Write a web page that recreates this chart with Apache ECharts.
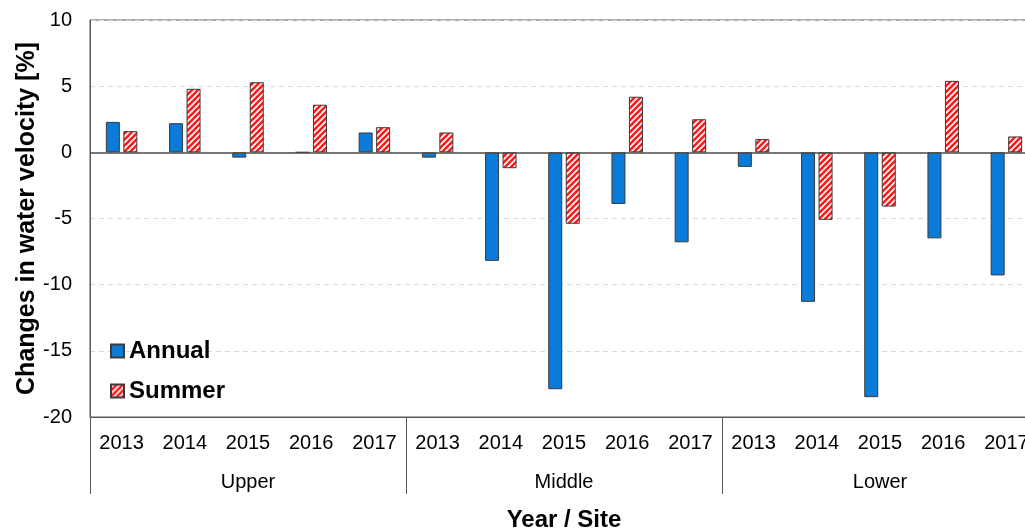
<!DOCTYPE html>
<html>
<head>
<meta charset="utf-8">
<script src="https://cdn.jsdelivr.net/npm/echarts@6/dist/echarts.min.js"></script>
<style>
  html, body { margin: 0; padding: 0; background: #fff; }
  #chart { width: 1025px; height: 532px; }
</style>
</head>
<body>
<div id="chart"></div>
<script>
// Site groups and the years measured within each
const sites = ['Upper', 'Middle', 'Lower'];
const years = ['2013', '2014', '2015', '2016', '2017'];

// Change in water velocity [%], per site and year (Upper, Middle, Lower)
const annual = [
  2.3, 2.2, -0.4, 0, 1.5,
  -0.4, -8.2, -17.9, -3.9, -6.8,
  -1.1, -11.3, -18.5, -6.5, -9.3
];
const summer = [
  1.6, 4.8, 5.3, 3.6, 1.9,
  1.5, -1.2, -5.4, 4.2, 2.5,
  1.0, -5.1, -4.1, 5.4, 1.2
];

const yTicks = { min: -20, max: 10, step: 5 };

// One category per site/year pair
const categories = [];
sites.forEach(() => years.forEach(y => categories.push(y)));

// Red diagonal hatch fill for the summer bars
function hatchPattern() {
  const s = 6;
  const c = document.createElement('canvas');
  c.width = s; c.height = s;
  const g = c.getContext('2d');
  g.fillStyle = '#ffffff';
  g.fillRect(0, 0, s, s);
  g.strokeStyle = '#ff1a1a';
  g.lineWidth = 2.6;
  g.beginPath();
  for (let k = -1; k <= 1; k++) {
    g.moveTo(k * s - 1, s + 1);
    g.lineTo(k * s + s + 1, -1);
  }
  g.stroke();
  return c;
}

const font = 'Liberation Sans, Arial, sans-serif';
const chart = echarts.init(document.getElementById('chart'), null, { renderer: 'canvas' });

chart.setOption({
  animation: false,
  backgroundColor: '#ffffff',
  grid: {
    left: 90, top: 20, width: 948, height: 397,
    show: true, borderColor: '#595959', borderWidth: 1,
    containLabel: false,
    outerBoundsMode: 'none'
  },
  legend: {
    orient: 'vertical',
    left: 105, top: 334,
    itemWidth: 13, itemHeight: 13,
    itemGap: 16,
    icon: 'rect',
    textStyle: { fontFamily: font, fontSize: 24, fontWeight: 'bold', color: '#000' },
    data: ['Annual', 'Summer']
  },
  xAxis: [
    {
      type: 'category',
      data: categories,
      position: 'bottom',
      axisLine: { onZero: false, lineStyle: { color: '#595959', width: 1 } },
      axisTick: {
        show: true, length: 77, inside: false,
        interval: (i) => i % years.length === 0,
        lineStyle: { color: '#595959' }
      },
      axisLabel: { fontFamily: font, fontSize: 20, color: '#000', margin: 16, interval: 0 },
      splitLine: { show: false }
    },
    {
      type: 'category',
      data: sites,
      position: 'bottom',
      offset: 77,
      axisLine: { show: false },
      axisTick: { show: false },
      axisLabel: { inside: true, fontFamily: font, fontSize: 20, color: '#000', margin: 2 },
      name: 'Year / Site',
      nameLocation: 'middle',
      nameGap: 14,
      nameTextStyle: { fontFamily: font, fontSize: 24, fontWeight: 'bold', color: '#000' }
    }
  ],
  yAxis: {
    type: 'value',
    min: yTicks.min, max: yTicks.max, interval: yTicks.step,
    axisLine: { show: true, lineStyle: { color: '#595959' } },
    axisTick: { show: false },
    axisLabel: { fontFamily: font, fontSize: 20, color: '#000', margin: 18 },
    splitLine: { show: true, lineStyle: { color: '#d9d9d9', type: [5, 4] } },
    name: 'Changes in water velocity [%]',
    nameLocation: 'middle',
    nameGap: 50,
    nameMoveOverlap: false,
    nameTextStyle: { fontFamily: font, fontSize: 25, fontWeight: 'bold', color: '#000' }
  },
  series: [
    {
      name: 'Annual',
      type: 'bar',
      data: annual,
      barWidth: 14,
      barGap: '25%',
      itemStyle: { color: '#0a7bd8', borderColor: '#3a3a3a', borderWidth: 1 },
      markLine: {
        silent: true,
        symbol: 'none',
        label: { show: false },
        lineStyle: { color: '#4d4d4d', type: 'solid', width: 1.5 },
        data: [{ yAxis: 0 }]
      }
    },
    {
      name: 'Summer',
      type: 'bar',
      data: summer,
      barWidth: 14,
      itemStyle: {
        color: { image: hatchPattern(), repeat: 'repeat' },
        borderColor: '#3a3a3a', borderWidth: 1
      }
    }
  ]
});
</script>
</body>
</html>
